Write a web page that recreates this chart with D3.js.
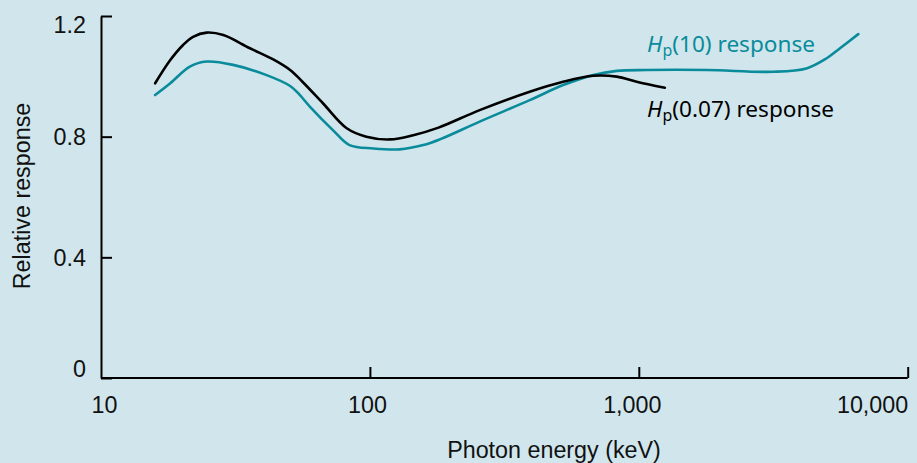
<!DOCTYPE html>
<html>
<head>
<meta charset="utf-8">
<script src="https://cdn.jsdelivr.net/npm/d3@7/dist/d3.min.js"></script>
<style>
  html, body { margin: 0; padding: 0; background: #d0e6ec; }
  svg { display: block; }
</style>
</head>
<body>
<svg id="chart" width="917" height="463"></svg>
<script>
// Photon energy (keV) and relative response values
const hp007Energy = [15.9, 18.1, 20.2, 22.0, 24.7, 28.5, 35.8, 43.7, 50.5, 56, 67, 82, 97, 119, 145, 180, 256, 393, 523, 677, 828, 982, 1250];
const hp007Value  = [0.977, 1.054, 1.104, 1.131, 1.145, 1.137, 1.093, 1.056, 1.021, 0.983, 0.91, 0.828, 0.80, 0.791, 0.805, 0.83, 0.888, 0.949, 0.982, 1.002, 0.999, 0.982, 0.962];

const hp10Energy = [15.9, 18.1, 21.4, 24.7, 31, 41.3, 50.5, 54, 59.9, 73, 84, 103, 129, 158, 182, 256, 393, 523, 677, 828, 1070, 1790, 3165, 4200, 5000, 5600, 6550];
const hp10Value  = [0.938, 0.977, 1.032, 1.049, 1.038, 1.004, 0.968, 0.945, 0.899, 0.821, 0.772, 0.761, 0.758, 0.772, 0.791, 0.85, 0.921, 0.971, 1.004, 1.018, 1.021, 1.021, 1.015, 1.026, 1.06, 1.093, 1.14];

const xTicks = [10, 100, 1000, 10000];
const yTicks = [0, 0.4, 0.8, 1.2];
const xTitle = "Photon energy (keV)";
const yTitle = "Relative response";

const svg = d3.select("#chart");
const teal = "#0a8b9b";
const axisFont = "Liberation Sans, Arial, sans-serif";
const axisSize = 23.3;

const x = d3.scaleLog().domain([10, 10000]).range([101, 907.7]);
const y = d3.scaleLinear().domain([0, 1.2]).range([378, 16]);

// Y axis
const yAxis = svg.append("g")
  .attr("transform", `translate(${x(10)},0)`)
  .call(d3.axisLeft(y).tickValues(yTicks).tickSizeInner(-11).tickSizeOuter(0).tickPadding(15)
        .tickFormat(d => d === 0 ? "0" : d3.format(".1f")(d)));
yAxis.selectAll("path, line").attr("stroke", "#000").attr("stroke-width", 2);
yAxis.selectAll("text")
  .attr("font-family", axisFont)
  .attr("font-size", axisSize)
  .attr("fill", "#111")
  .attr("dy", d => d === 1.2 ? "0.72em" : d === 0 ? "-0.05em" : "0.34em");

// X axis
const xAxis = svg.append("g")
  .attr("transform", `translate(0,${y(0)})`)
  .call(d3.axisBottom(x).tickValues(xTicks).tickSizeInner(-11).tickSizeOuter(0).tickPadding(18)
        .tickFormat(d3.format(",")));
xAxis.selectAll("path, line").attr("stroke", "#000").attr("stroke-width", 2);
xAxis.selectAll(".tick line").filter(d => d === 10).remove();
xAxis.selectAll("text")
  .attr("font-family", axisFont)
  .attr("font-size", axisSize)
  .attr("fill", "#111")
  .attr("text-anchor", d => d === 10000 ? "end" : "middle")
  .attr("dx", d => d === 10 ? 3 : d === 100 ? -3 : d === 1000 ? -7 : 0);
xAxis.select(".domain").attr("d", `M${x(10)},0H${x(10000)}`);

// Titles
svg.append("text")
  .attr("x", 554).attr("y", 458)
  .attr("text-anchor", "middle")
  .attr("font-family", axisFont)
  .attr("font-size", axisSize)
  .attr("fill", "#111")
  .text(xTitle);

svg.append("text")
  .attr("transform", "translate(29.5,196) rotate(-90)")
  .attr("text-anchor", "middle")
  .attr("font-family", axisFont)
  .attr("font-size", axisSize)
  .attr("fill", "#111")
  .text(yTitle);

// Lines
const line = d3.line()
  .x(d => x(d[0]))
  .y(d => y(d[1]))
  .curve(d3.curveCatmullRom.alpha(0.5));

const hp10 = hp10Energy.map((e, i) => [e, hp10Value[i]]);
const hp007 = hp007Energy.map((e, i) => [e, hp007Value[i]]);

svg.append("path").datum(hp10)
  .attr("d", line).attr("fill", "none")
  .attr("stroke", teal).attr("stroke-width", 2.6).attr("stroke-linecap", "round");

svg.append("path").datum(hp007)
  .attr("d", line).attr("fill", "none")
  .attr("stroke", "#000").attr("stroke-width", 2.6).attr("stroke-linecap", "round");

// Labels
function label(yBase, sub, rest, color) {
  const t = svg.append("text")
    .attr("x", 647).attr("y", yBase)
    .attr("font-family", "Noto Sans, Open Sans, sans-serif")
    .attr("font-size", 22.6)
    .attr("fill", color);
  t.append("tspan").attr("font-style", "italic").text("H");
  t.append("tspan").attr("font-size", 16).attr("dy", 4).text(sub);
  t.append("tspan").attr("dy", -4).text(rest);
}
label(52, "p", "(10) response", teal);
label(117, "p", "(0.07) response", "#000");
</script>
</body>
</html>
